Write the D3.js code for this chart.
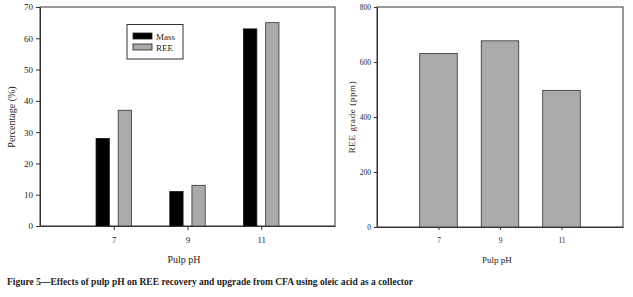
<!DOCTYPE html>
<html><head><meta charset="utf-8">
<script src="https://cdn.jsdelivr.net/npm/d3@7"></script>
<style>body{margin:0;background:#fff}svg{display:block}text{font-family:"Liberation Serif",serif;fill:#222}</style>
</head><body><svg id="c" width="633" height="297"></svg>
<script>
const categories = [7, 9, 11];
const massPct = [28, 11, 63];
const reePct = [37, 13, 65];
const reeGrade = [631, 677, 497];
const leftTicks = [0,10,20,30,40,50,60,70];
const rightTicks = [0,200,400,600,800];
const seriesNames = ["Mass", "REE"];
const caption = "Figure 5\u2014Effects of pulp pH on REE recovery and upgrade from CFA using oleic acid as a collector";

const svg = d3.select("#c");
const stroke = "#333";

// Left chart
const L = {x0:40, x1:335, y0:7, y1:226};
const xl = d3.scaleLinear().domain([5,13]).range([L.x0, L.x1]);
const yl = d3.scaleLinear().domain([0,70]).range([L.y1, L.y0]);
const gl = svg.append("g");
gl.append("rect").attr("x",L.x0).attr("y",L.y0).attr("width",L.x1-L.x0).attr("height",L.y1-L.y0)
  .attr("fill","none").attr("stroke",stroke).attr("stroke-width",1);
const bw = 0.36, off = 0.3;
gl.selectAll(".m").data(categories).enter().append("rect")
  .attr("x",d=>xl(d-off-bw/2)).attr("width",xl(bw)-xl(0))
  .attr("y",(d,i)=>yl(massPct[i])).attr("height",(d,i)=>yl(0)-yl(massPct[i]))
  .attr("fill","#000").attr("stroke","#111").attr("stroke-width",0.8);
gl.selectAll(".r").data(categories).enter().append("rect")
  .attr("x",d=>xl(d+off-bw/2)).attr("width",xl(bw)-xl(0))
  .attr("y",(d,i)=>yl(reePct[i])).attr("height",(d,i)=>yl(0)-yl(reePct[i]))
  .attr("fill","#aaa").attr("stroke","#333").attr("stroke-width",0.8);
const axL = gl.append("g").attr("transform",`translate(${L.x0},0)`)
  .call(d3.axisLeft(yl).tickValues(leftTicks).tickSize(4).tickSizeOuter(0));
const axLB = gl.append("g").attr("transform",`translate(0,${L.y1})`)
  .call(d3.axisBottom(xl).tickValues(categories).tickSize(4).tickSizeOuter(0));
[axL, axLB].forEach(a=>{a.select(".domain").attr("stroke",stroke);a.selectAll("line").attr("stroke",stroke);
  a.selectAll("text").attr("font-family","Liberation Serif").attr("font-size",9).attr("fill","#222");});
axLB.selectAll("text").attr("dy","1.1em");
gl.append("text").attr("transform","translate(15,117) rotate(-90)").attr("text-anchor","middle")
  .attr("font-size",10).text("Percentage (%)");
gl.append("text").attr("x",184).attr("y",263).attr("text-anchor","middle").attr("font-size",10).text("Pulp pH");
// legend
const lg = gl.append("g");
lg.append("rect").attr("x",127).attr("y",24.5).attr("width",56).attr("height",34.5).attr("fill","#fff").attr("stroke",stroke);
const colors = ["#000","#aaa"];
seriesNames.forEach((n,i)=>{
  lg.append("rect").attr("x",133).attr("y",33+i*11).attr("width",19).attr("height",6).attr("fill",colors[i]).attr("stroke","#222").attr("stroke-width",0.8);
  lg.append("text").attr("x",156).attr("y",39.5+i*11).attr("font-size",9).text(n);
});

// Right chart
const R = {x0:377, x1:623, y0:7, y1:227};
const xr = d3.scaleLinear().domain([5,13]).range([R.x0, R.x1]);
const yr = d3.scaleLinear().domain([0,800]).range([R.y1, R.y0]);
const gr = svg.append("g");
gr.append("rect").attr("x",R.x0).attr("y",R.y0).attr("width",R.x1-R.x0).attr("height",R.y1-R.y0)
  .attr("fill","none").attr("stroke",stroke).attr("stroke-width",1);
const bw2 = 1.22;
gr.selectAll(".g").data(categories).enter().append("rect")
  .attr("x",d=>xr(d-bw2/2)).attr("width",xr(bw2)-xr(0))
  .attr("y",(d,i)=>yr(reeGrade[i])).attr("height",(d,i)=>yr(0)-yr(reeGrade[i]))
  .attr("fill","#aaa").attr("stroke","#333").attr("stroke-width",0.8);
const axR = gr.append("g").attr("transform",`translate(${R.x0},0)`)
  .call(d3.axisLeft(yr).tickValues(rightTicks).tickSize(3).tickSizeOuter(0));
const axRB = gr.append("g").attr("transform",`translate(0,${R.y1})`)
  .call(d3.axisBottom(xr).tickValues(categories).tickSize(3).tickSizeOuter(0));
[axR, axRB].forEach(a=>{a.select(".domain").attr("stroke",stroke);a.selectAll("line").attr("stroke",stroke);
  a.selectAll("text").attr("font-family","Liberation Serif").attr("font-size",7.5).attr("fill","#222");});
axRB.selectAll("text").attr("dy","1.3em");
gr.append("text").attr("transform","translate(355,117) rotate(-90)").attr("text-anchor","middle")
  .attr("font-size",9).attr("letter-spacing","0.6").text("REE grade (ppm)");
gr.append("text").attr("x",497).attr("y",263).attr("text-anchor","middle").attr("font-size",9).text("Pulp pH");

svg.append("text").attr("x",7).attr("y",285).attr("font-size",10.5).attr("font-weight","bold")
  .attr("textLength",406).attr("lengthAdjust","spacingAndGlyphs")
  .attr("fill","#222").text(caption);
</script></body></html>
